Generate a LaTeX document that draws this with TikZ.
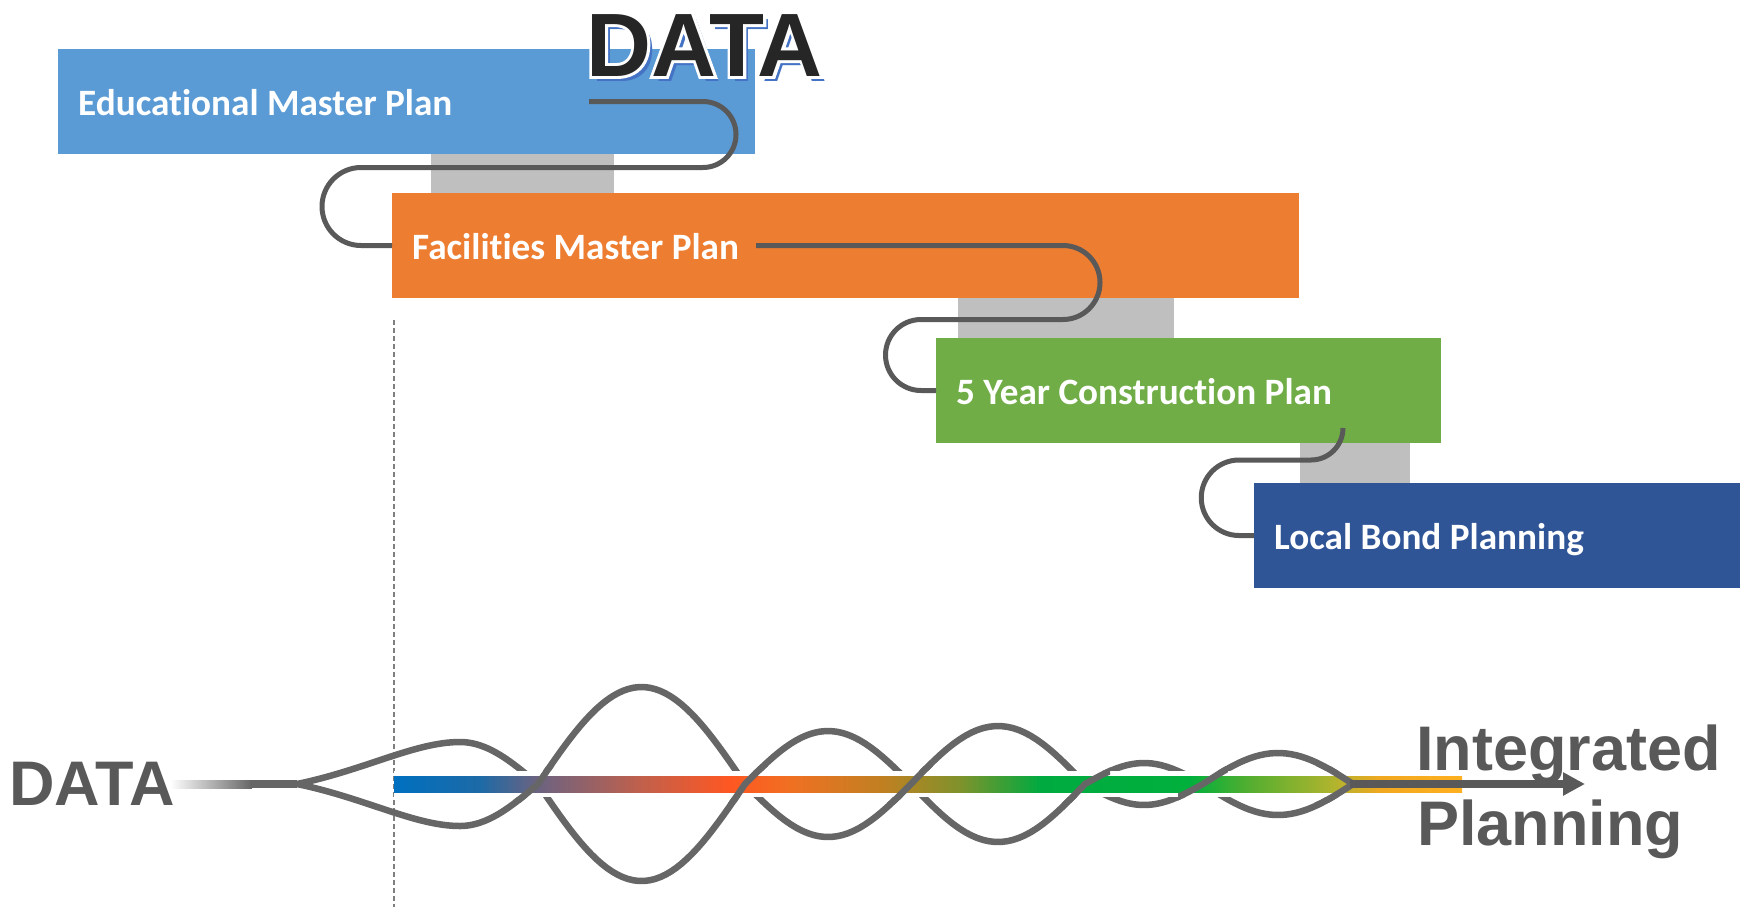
\documentclass[tikz,border=0pt]{standalone}
\usepackage{fontspec}
\setmainfont{Carlito}[Ligatures=NoCommon]
\newfontfamily\arialfont{Liberation Sans}
\newfontfamily\haloFont{Liberation Sans}[BoldFeatures={FakeBold=6.5}]
\usetikzlibrary{arrows.meta}
\definecolor{bluebox}{HTML}{5B9BD5}
\definecolor{orangebox}{HTML}{ED7D31}
\definecolor{greenbox}{HTML}{70AD47}
\definecolor{navybox}{HTML}{2F5597}
\definecolor{linkgray}{HTML}{BFBFBF}
\definecolor{wire}{HTML}{595959}
\definecolor{strandgray}{HTML}{666666}
\definecolor{titleblack}{HTML}{262626}
\definecolor{shadowblue}{HTML}{4472C4}
\definecolor{dashgray}{HTML}{7F7F7F}
\definecolor{bc0}{HTML}{0070C0}
\definecolor{bc1}{HTML}{1D6AA6}
\definecolor{bc2}{HTML}{6A6382}
\definecolor{bc3}{HTML}{C0604C}
\definecolor{bc4}{HTML}{FF5722}
\definecolor{bc5}{HTML}{F07022}
\definecolor{bc6}{HTML}{C08022}
\definecolor{bc7}{HTML}{7F922C}
\definecolor{bc8}{HTML}{00AA40}
\definecolor{bc9}{HTML}{00B03C}
\definecolor{bc10}{HTML}{55AE30}
\definecolor{bc11}{HTML}{B0B42E}
\definecolor{bc12}{HTML}{F0A820}
\definecolor{bc13}{HTML}{FFB020}
\pgfdeclarehorizontalshading{barshade}{100bp}{color(0bp)=(bc0); color(25bp)=(bc0); color(29.03bp)=(bc1); color(31.65bp)=(bc2); color(36.52bp)=(bc3); color(40.73bp)=(bc4); color(43.54bp)=(bc5); color(47.89bp)=(bc6); color(51.5bp)=(bc7); color(55.24bp)=(bc8); color(62.27bp)=(bc9); color(65.07bp)=(bc10); color(68.96bp)=(bc11); color(71.16bp)=(bc12); color(75bp)=(bc13); color(100bp)=(bc13)}
\newcommand\strandApath{(250,784) -- (297,784) .. controls (365,770) and (415,742) .. (460,742) -- plot[domain=460:538,samples=20] (\x,{784-42*cos((\x-460)/78*90)}) -- plot[domain=538:745,samples=40] (\x,{784+97*sin((\x-538)/207*180)}) -- plot[domain=745:911,samples=30] (\x,{784-53*sin((\x-745)/166*180)}) -- plot[domain=911:1085,samples=30] (\x,{784+58*sin((\x-911)/174*180)}) -- plot[domain=1085:1203,samples=24] (\x,{784-21*sin((\x-1085)/118*180)}) -- plot[domain=1203:1353,samples=30] (\x,{784+31*sin((\x-1203)/150*180)})}
\newcommand\strandBpath{(250,784) -- (297,784) .. controls (365,798) and (415,826) .. (460,826) -- plot[domain=460:538,samples=20] (\x,{784+42*cos((\x-460)/78*90)}) -- plot[domain=538:745,samples=40] (\x,{784-97*sin((\x-538)/207*180)}) -- plot[domain=745:911,samples=30] (\x,{784+53*sin((\x-745)/166*180)}) -- plot[domain=911:1085,samples=30] (\x,{784-58*sin((\x-911)/174*180)}) -- plot[domain=1085:1203,samples=24] (\x,{784+21*sin((\x-1085)/118*180)}) -- plot[domain=1203:1353,samples=30] (\x,{784-31*sin((\x-1203)/150*180)})}
\newcommand\plantext[2]{\makebox[#1][l]{#2}}
\tikzset{
  plan/.style={rectangle, inner xsep=20pt, inner ysep=0pt, minimum height=105pt, text=white,
    font=\fontsize{37.2}{42}\selectfont\bfseries, anchor=north west,
    text height=28pt, text depth=0pt},
  link/.style={rectangle, fill=linkgray, inner sep=0pt, anchor=north west},
  wireline/.style={draw=wire, line width=5pt},
  strand/.style={draw=strandgray, line width=6.5pt, line join=round},
  bigword/.style={anchor=base west, inner sep=0pt, text=wire, font=\arialfont\bfseries\fontsize{63}{70}\selectfont},
  titleword/.style={anchor=base west, inner sep=0pt, font=\fontsize{90}{96}\selectfont},
  arrowline/.style={draw=wire, line width=8pt, -{Triangle[length=22pt,width=22pt]}},
  guide/.style={draw=dashgray, line width=1.5pt, dash pattern=on 5pt off 3pt}
}
\begin{document}
\begin{tikzpicture}[x=1pt,y=-1pt]
\useasboundingbox (0,0) rectangle (1752,911);
% gray links
\node[link, minimum width=183pt, minimum height=39pt] (g1) at (431,154) {};
\node[link, minimum width=216pt, minimum height=40pt] (g2) at (958,298) {};
\node[link, minimum width=110pt, minimum height=40pt] (g3) at (1300,443) {};
% plan boxes
\node[plan, fill=bluebox] (emp) at (58,49) {\plantext{657pt}{Educational Master Plan}};
\node[plan, fill=orangebox] (fmp) at (392,193) {\plantext{867pt}{Facilities Master Plan}};
\node[plan, fill=greenbox] (ycp) at (936,338) {\plantext{465pt}{5 Year Construction Plan}};
\node[plan, fill=navybox] (lbp) at (1254,483) {\plantext{446pt}{Local Bond Planning}};
% connectors
\coordinate (c1s) at (589,101.5);
\coordinate (c2s) at (756,245.5);
\coordinate (c3s) at (1343,428);
\draw[wireline] (c1s) -- (703,101.5) arc[start angle=90, end angle=-90, radius=33pt]
  -- (361,167.5) arc[start angle=90, end angle=270, radius=39pt] -- (fmp.west);
\draw[wireline] (c2s) -- (1063,245.5) arc[start angle=90, end angle=-90, radius=37pt]
  -- (921,319.5) arc[start angle=90, end angle=270, radius=35.5pt] -- (ycp.west);
\draw[wireline] (c3s) arc[start angle=0, end angle=-90, radius=32pt]
  -- (1239,460) arc[start angle=90, end angle=270, radius=37.75pt] -- (lbp.west);
% title DATA (blue shadow, white halo, dark fill)
\node[titleword] (title) at (586,76) {\rlap{\kern5pt\raisebox{-5pt}{\arialfont\bfseries\textcolor{shadowblue}{DATA}}}%
  \rlap{\haloFont\bfseries\textcolor{white}{DATA}}%
  {\arialfont\bfseries\textcolor{titleblack}{DATA}}};
% bottom words
\node[bigword] (dataleft) at (9,805) {DATA};
\node[bigword] (integ) at (1416,770) {Integrated};
\node[bigword] (plann) at (1417,845) {Planning};
% dashed guide
\coordinate (gtop) at (394,320);
\coordinate (gbot) at (394,907);
\draw[guide] (gtop) -- (gbot);
% data line fade
\shade[left color=white, right color=strandgray] (170,780) rectangle (252,788);
\draw[strandgray, line width=8pt] (250,784) -- (297,784);
% strands
\draw[strand] \strandApath;
\draw[strand] \strandBpath;
% bar
\draw[white, line width=26pt] (394,784) -- (1462,784);
\shade[shading=barshade] (394,776) rectangle (1462,792);
% strands over the bar
\begin{scope}\clip (513,766) rectangle (563,802); \draw[strand] \strandBpath; \end{scope}
\begin{scope}\clip (720,766) rectangle (770,802); \draw[strand] \strandApath; \end{scope}
\begin{scope}\clip (886,766) rectangle (936,802); \draw[strand] \strandBpath; \end{scope}
\begin{scope}\clip (1060,766) rectangle (1110,802); \draw[strand] \strandApath; \end{scope}
\begin{scope}\clip (1178,766) rectangle (1228,802); \draw[strand] \strandBpath; \end{scope}
\begin{scope}\clip (1290,766) rectangle (1360,802); \draw[strand] \strandApath; \draw[strand] \strandBpath; \end{scope}
% arrow
\coordinate (mergept) at (1350,784);
\coordinate (tip) at (1585,784);
\draw[arrowline] (mergept) -- (tip);
\end{tikzpicture}
\end{document}
